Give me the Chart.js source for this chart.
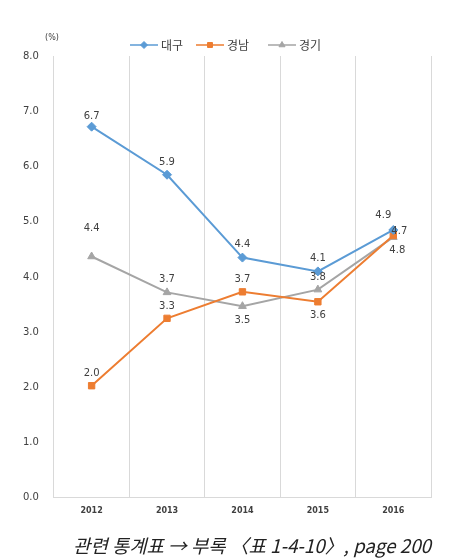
<!DOCTYPE html>
<html>
<head>
<meta charset="utf-8">
<script src="https://cdn.jsdelivr.net/npm/chart.js@4"></script>
<style>
  html, body { margin: 0; padding: 0; background: #fff; }
  #wrap { width: 472px; height: 559px; position: relative; }
</style>
</head>
<body>
<div id="wrap"><canvas id="chart"></canvas></div>
<script>
const years = ['2012', '2013', '2014', '2015', '2016'];
const seriesNames = ['대구', '경남', '경기'];
const daegu = [6.72, 5.85, 4.35, 4.1, 4.85];
const gyeongnam = [2.03, 3.25, 3.73, 3.55, 4.75];
const gyeonggi = [4.37, 3.72, 3.47, 3.77, 4.72];
const daeguLabels = ['6.7', '5.9', '4.4', '4.1', '4.9'];
const gyeongnamLabels = ['2.0', '3.3', '3.7', '3.6', '4.7'];
const gyeonggiLabels = ['4.4', '3.7', '3.5', '3.8', '4.8'];
const yTicks = [0, 1, 2, 3, 4, 5, 6, 7, 8];

const colors = ['#5B9BD5', '#ED7D31', '#A5A5A5'];
const styles = ['rectRot', 'rect', 'triangle'];

// label placement per point: [dx, dy] from the marker
const labelOffsets = [
    [[0, -10], [0, -12], [0, -13], [0, -13], [-10, -15]],
    [[0, -12], [0, -12], [0, -12], [0, 14], [6, -4]],
    [[0, -28], [0, -13], [0, 14], [0, -12], [4, 13]]
];

const labelPlugin = {
    id: 'pointLabels',
    afterDatasetsDraw(chart) {
        const ctx = chart.ctx;
        ctx.save();
        ctx.font = '10px "DejaVu Sans", sans-serif';
        ctx.fillStyle = '#404040';
        ctx.textAlign = 'center';
        ctx.textBaseline = 'middle';
        chart.data.datasets.forEach((ds, i) => {
            const meta = chart.getDatasetMeta(i);
            meta.data.forEach((pt, j) => {
                const off = labelOffsets[i][j];
                ctx.fillText(ds.valueLabels[j], pt.x + off[0], pt.y + off[1]);
            });
        });
        ctx.restore();
    }
};

const legendPlugin = {
    id: 'lineLegend',
    afterDraw(chart) {
        const ctx = chart.ctx;
        const y = 45;
        const starts = [130, 196, 268];
        ctx.save();
        ctx.font = '12px "Noto Sans CJK KR", sans-serif';
        ctx.textBaseline = 'middle';
        ctx.textAlign = 'left';
        chart.data.datasets.forEach((ds, i) => {
            const x0 = starts[i];
            ctx.strokeStyle = ds.borderColor;
            ctx.fillStyle = ds.backgroundColor;
            ctx.lineWidth = 1.5;
            ctx.beginPath();
            ctx.moveTo(x0, y);
            ctx.lineTo(x0 + 28, y);
            ctx.stroke();
            ctx.lineWidth = 1;
            Chart.helpers.drawPoint(ctx, {
                pointStyle: ds.pointStyle,
                radius: 3.5,
                borderWidth: 1
            }, x0 + 14, y);
            ctx.fillStyle = '#404040';
            ctx.fillText(ds.label, x0 + 31, y);
        });
        // unit label above y axis
        ctx.font = '8px "DejaVu Sans", sans-serif';
        ctx.fillStyle = '#404040';
        ctx.textAlign = 'center';
        ctx.fillText('(%)', 52, 38);
        ctx.restore();
    }
};

function makeSet(name, values, labels, i) {
    return {
        label: name,
        data: values,
        valueLabels: labels,
        borderColor: colors[i],
        backgroundColor: colors[i],
        pointStyle: styles[i],
        pointRadius: 4.5,
        pointBorderWidth: 1,
        borderWidth: 2,
        tension: 0,
        fill: false
    };
}

new Chart(document.getElementById('chart'), {
    type: 'line',
    data: {
        labels: years,
        datasets: [
            makeSet(seriesNames[0], daegu, daeguLabels, 0),
            makeSet(seriesNames[1], gyeongnam, gyeongnamLabels, 1),
            makeSet(seriesNames[2], gyeonggi, gyeonggiLabels, 2)
        ]
    },
    options: {
        responsive: true,
        maintainAspectRatio: false,
        animation: false,
        layout: {
            padding: { top: 56, left: 16, right: 41, bottom: 2 }
        },
        plugins: {
            legend: { display: false },
            tooltip: { enabled: false },
            title: {
                display: true,
                position: 'bottom',
                align: 'end',
                text: '관련 통계표 → 부록 〈표 1-4-10〉, page 200',
                color: '#222',
                font: { family: '"Noto Sans CJK KR", sans-serif', size: 18.8, style: 'italic', weight: 'normal' },
                padding: { top: 11, bottom: 0 }
            }
        },
        scales: {
            x: {
                offset: true,
                grid: {
                    offset: true,
                    color: '#D9D9D9',
                    lineWidth: 1,
                    drawTicks: false
                },
                border: { display: true, color: '#D9D9D9' },
                ticks: {
                    color: '#404040',
                    padding: 8,
                    font: { family: '"DejaVu Sans", sans-serif', size: 8, weight: 'bold' }
                }
            },
            y: {
                min: 0,
                max: 8,
                afterBuildTicks(axis) {
                    axis.ticks = yTicks.map(v => ({ value: v }));
                },
                grid: { display: false },
                border: { display: false },
                ticks: {
                    color: '#404040',
                    padding: 7,
                    font: { family: '"DejaVu Sans", sans-serif', size: 10 },
                    callback: v => v.toFixed(1)
                }
            }
        }
    },
    plugins: [labelPlugin, legendPlugin]
});
</script>
</body>
</html>
